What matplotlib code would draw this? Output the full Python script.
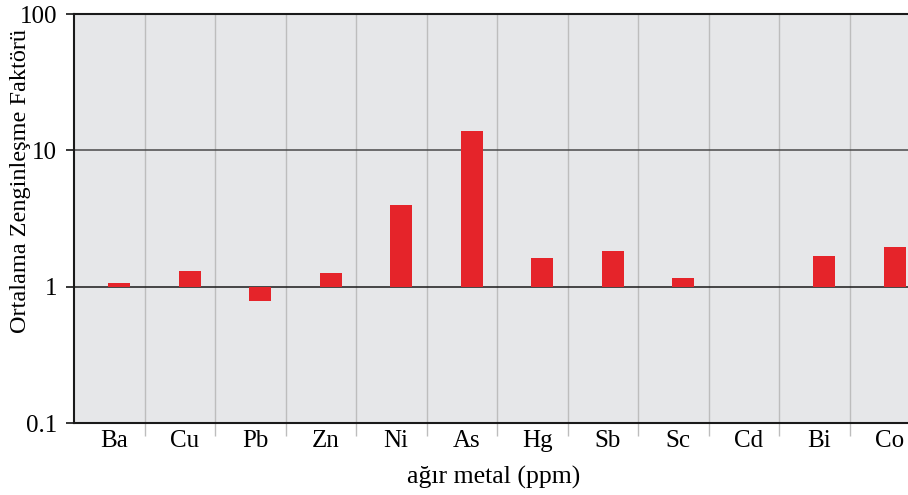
import numpy as np
import matplotlib
matplotlib.use('Agg')
import matplotlib.pyplot as plt

plt.rcParams['font.family'] = ['Liberation Serif', 'DejaVu Serif']

metals = ['Ba', 'Cu', 'Pb', 'Zn', 'Ni', 'As', 'Hg', 'Sb', 'Sc', 'Cd', 'Bi', 'Co']
ef_mean = [1.07, 1.31, 0.78, 1.27, 3.98, 13.9, 1.62, 1.84, 1.15, 1.0, 1.67, 1.96]

y_ticks = [0.1, 1, 10, 100]
y_ticklabels = ['0.1', '1', '10', '100']

bar_color = '#e5242a'
bg_color = '#e6e7e9'
sep_color = '#bdbdbd'

fig = plt.figure(figsize=(9.08, 4.95), dpi=100)
# axes runs past the right edge on purpose, last column gets cut
ax = fig.add_axes([74/908, 72/495, 846/908, 409/495])
ax.set_facecolor(bg_color)

x = np.arange(len(metals))
ef = np.asarray(ef_mean)
# bars grow from 1 (up or down on the log axis)
ax.bar(x + 0.14, ef - 1.0, bottom=1.0, width=0.31, color=bar_color, zorder=3)

ax.set_yscale('log')
ax.set_ylim(0.1, 100)
ax.set_xlim(-0.5, len(metals) - 0.5)

# horizontal reference lines
ax.axhline(10, color='#4a4a4a', lw=1.1, zorder=2)
ax.axhline(1, color='#1a1a1a', lw=1.1, zorder=2)

# category separators
bounds = np.arange(0.5, len(metals) - 0.5, 1.0)
for b in bounds:
    ax.axvline(b, color=sep_color, lw=1.0, zorder=1)

ax.set_yticks(y_ticks)
ax.set_yticklabels(y_ticklabels)
ax.yaxis.set_minor_locator(matplotlib.ticker.NullLocator())
ax.tick_params(axis='y', which='major', length=6, width=1.1, color='black',
               labelsize=18, pad=6)

ax.set_xticks(x + 0.07)
ax.set_xticklabels(metals)
ax.set_xticks(bounds, minor=True)
ax.tick_params(axis='x', which='major', length=0, labelsize=18, pad=5)
ax.tick_params(axis='x', which='minor', length=9, width=1.0, color=sep_color)

for side in ['left', 'top', 'bottom']:
    ax.spines[side].set_linewidth(1.5)
    ax.spines[side].set_color('#1a1a1a')
ax.spines['right'].set_visible(False)

ax.set_ylabel('Ortalama Zenginleşme Faktörü', fontsize=17.5)
ax.yaxis.set_label_coords(-0.0505, 0.592)
ax.set_xlabel('ağır metal (ppm)', fontsize=18.5)
ax.xaxis.set_label_coords(0.496, -0.105)

fig.savefig('out.png', dpi=100)
